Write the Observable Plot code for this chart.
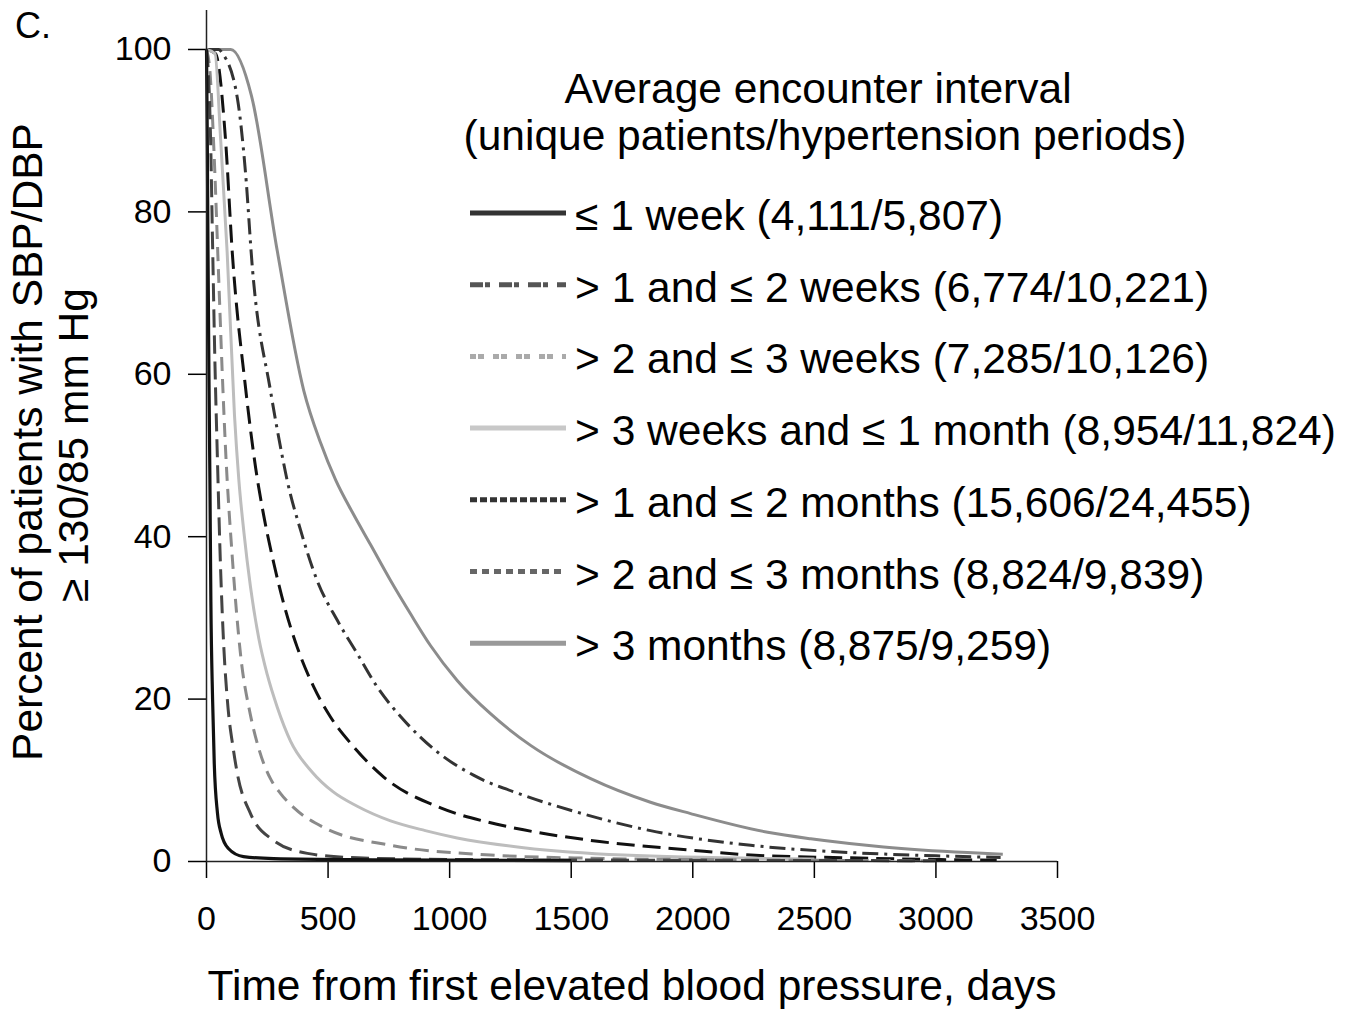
<!DOCTYPE html>
<html><head><meta charset="utf-8">
<script src="https://cdn.jsdelivr.net/npm/d3@7"></script>
<script src="https://cdn.jsdelivr.net/npm/@observablehq/plot@0.6"></script>
<style>body{margin:0;background:#fff;} svg{font-family:"Liberation Sans",Arial,sans-serif;}</style>
</head><body><div id="chart"></div>
<script>
// ---- data ----
const seriesNames = [
  "≤ 1 week (4,111/5,807)",
  "> 1 and ≤ 2 weeks (6,774/10,221)",
  "> 2 and ≤ 3 weeks (7,285/10,126)",
  "> 3 weeks and ≤ 1 month (8,954/11,824)",
  "> 1 and ≤ 2 months (15,606/24,455)",
  "> 2 and ≤ 3 months (8,824/9,839)",
  "> 3 months (8,875/9,259)"
];
const days1 = [0,3,6,10,14,18,25,32,45,60,90,152,276,700,1500];
const pct1  = [100,90,76,60,47,32,20,12,6,3.5,1.6,0.6,0.35,0.2,0.1];
const days2 = [0,8,16,25,35,44,58,71,86,111,127,181,276,415,621,1000,2000,3000];
const pct2  = [100,97,90,76,61,50.6,36,26.5,19.8,13.7,10.8,5.9,2.6,1.0,0.45,0.25,0.15,0.1];
const days3 = [0,15,30,50,65,78,106,140,181,215,263,304,360,481,757,1168,1580,2200,3000];
const pct3  = [100,97,88,72,60,51,37.5,25.5,18,13.9,10.2,8.4,6.6,4.2,2.0,0.8,0.4,0.2,0.1];
const days4 = [0,35,58,85,115,133,154,181,215,250,291,346,435,520,620,757,900,1031,1304,1715,2500];
const pct4  = [100,99.5,89,75,55,47,40.5,33.8,27.5,23,19,14.8,11,8.6,6.8,5.0,3.8,2.9,1.7,0.8,0.3];
const days5 = [0,37,78,106,160,202,236,277,318,373,441,510,606,729,963,1150,1304,1580,1991,2238,2649,3000,3250];
const pct5  = [100,99.5,89,75,58.5,48.5,42.5,36.7,31.7,26.4,21.5,17.8,14.1,10.4,6.6,4.9,3.9,2.6,1.4,0.8,0.45,0.25,0.15];
const days6 = [0,50,66,127,160,189,263,311,332,387,455,538,620,702,812,949,1100,1300,1510,1826,2238,2649,3000,3266];
const pct6  = [100,100,99.5,94,85,73,58,50,46.9,40.8,34.6,29.7,25.6,21.5,17.4,13.5,10.6,8.2,6.2,3.8,2.0,1.1,0.7,0.5];
const days7 = [0,100,185,291,400,470,531,600,675,757,839,921,1031,1168,1333,1580,1826,1991,2308,2485,2785,3130,3275];
const pct7  = [100,100,94.3,75.2,58,51.5,47,43,39,34.6,30.5,26.6,22.3,18.2,14.3,10.2,7.3,5.9,3.6,2.8,1.8,1.1,0.9];
const xTicks = [0,500,1000,1500,2000,2500,3000,3500];
const yTicks = [0,20,40,60,80,100];
const xTitle = "Time from first elevated blood pressure, days";
const yTitle1 = "Percent of patients with SBP/DBP";
const yTitle2 = "≥ 130/85 mm Hg";
const legendTitle1 = "Average encounter interval";
const legendTitle2 = "(unique patients/hypertension periods)";
const panelLabel = "C.";

// ---- styles ----
const styles = [
  {stroke:"#111", width:3.2, dash:null},
  {stroke:"#444", width:3, dash:"18,8"},
  {stroke:"#8a8a8a", width:3, dash:"14,8"},
  {stroke:"#bdbdbd", width:3, dash:null},
  {stroke:"#111", width:3, dash:"18,8"},
  {stroke:"#333", width:3, dash:"16,6,3,6"},
  {stroke:"#8c8c8c", width:3, dash:null}
];
const legendStyles = [
  {stroke:"#333", width:5, dash:null},
  {stroke:"#555", width:5, dash:"13,2,5,9"},
  {stroke:"#aaa", width:5, dash:"6,2,6,9"},
  {stroke:"#c8c8c8", width:5, dash:null},
  {stroke:"#333", width:5, dash:"7,3"},
  {stroke:"#666", width:5, dash:"7,5"},
  {stroke:"#999", width:5, dash:null}
];

const allDays = [days1,days2,days3,days4,days5,days6,days7];
const allPct = [pct1,pct2,pct3,pct4,pct5,pct6,pct7];
const table = allDays.map((ds, i) => ds.map((d, j) => ({series: seriesNames[i], day: d, pct: allPct[i][j]})));

const lineMarks = [];
for (let i = 6; i >= 0; i--) {
  lineMarks.push(Plot.line(table[i], {
    x: "day", y: "pct", curve: "monotone-x",
    stroke: styles[i].stroke, strokeWidth: styles[i].width,
    strokeDasharray: styles[i].dash || undefined, strokeLinecap: "butt", strokeLinejoin: "round"
  }));
}

const chart = Plot.plot({
  width: 1363, height: 1013,
  marginLeft: 206, marginRight: 306, marginTop: 10, marginBottom: 152,
  style: {fontFamily: "Liberation Sans, Arial, sans-serif", background: "#fff", color: "#000", overflow: "visible"},
  x: {domain: [0, 3500]},
  y: {domain: [0, 104.8]},
  marks: [
    Plot.axisX({ticks: xTicks, tickSize: 17, tickPadding: 27, fontSize: 34, label: null, tickFormat: d => String(d), strokeWidth: 1.5}),
    Plot.axisY({ticks: yTicks, tickSize: 18, tickPadding: 17, fontSize: 34, label: null, tickFormat: d => String(d), strokeWidth: 1.5}),
    ...lineMarks,
    Plot.ruleX([0], {stroke: "#222", strokeWidth: 1.5}),
    Plot.ruleY([0], {stroke: "#222", strokeWidth: 1.5})
  ]
});
document.getElementById("chart").appendChild(chart);

// ---- titles and legend ----
const FS = 42.5;
const svg = d3.select(chart);
const g = svg.append("g").attr("fill", "#000").attr("font-family", "Liberation Sans, Arial, sans-serif");
g.append("text").attr("x", 15).attr("y", 38).attr("font-size", 36).attr("text-anchor", "start").text(panelLabel);
g.append("text").attr("x", 632).attr("y", 1000).attr("font-size", FS).attr("text-anchor", "middle").text(xTitle);
g.append("text").attr("transform", "translate(42,442) rotate(-90)").attr("font-size", FS).attr("text-anchor", "middle").text(yTitle1);
g.append("text").attr("transform", "translate(88,445) rotate(-90)").attr("font-size", FS).attr("text-anchor", "middle").text(yTitle2);
g.append("text").attr("x", 818).attr("y", 103).attr("font-size", FS).attr("text-anchor", "middle").text(legendTitle1);
g.append("text").attr("x", 825).attr("y", 150).attr("font-size", FS).attr("text-anchor", "middle").text(legendTitle2);
seriesNames.forEach((name, i) => {
  const cy = 215 + i * 71.7;
  const s = legendStyles[i];
  g.append("line").attr("x1", 470).attr("x2", 566).attr("y1", cy - 2).attr("y2", cy - 2)
    .attr("stroke", s.stroke).attr("stroke-width", s.width)
    .attr("stroke-dasharray", s.dash);
  g.append("text").attr("x", 575).attr("y", cy + 15).attr("font-size", FS).attr("text-anchor", "start").text(name);
});
</script></body></html>
